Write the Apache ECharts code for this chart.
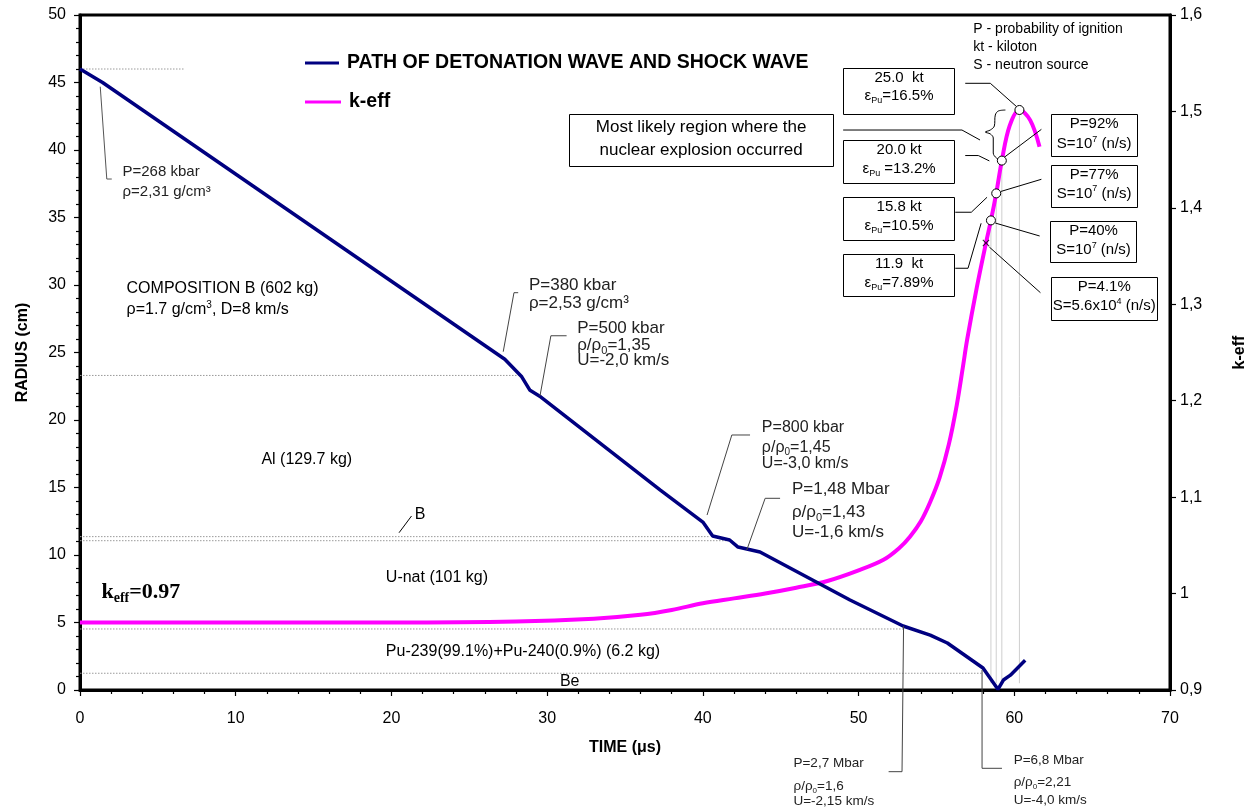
<!DOCTYPE html>
<html>
<head>
<meta charset="utf-8">
<script src="https://cdn.jsdelivr.net/npm/echarts/dist/echarts.min.js"></script>
<style>
  html, body { margin: 0; padding: 0; background: #fff; }
  #chart { width: 1256px; height: 810px; }
</style>
</head>
<body>
<div id="chart"></div>
<script>
// ---- axis scales ----
const timeMin = 0, timeMax = 70, timeStep = 10;
const radiusMin = 0, radiusMax = 50, radiusStep = 5;
const keffMin = 0.9, keffMax = 1.6, keffStep = 0.1;

// ---- detonation / shock front: radius (cm) vs time (µs) ----
const shockTime   = [0, 1.45, 27.28, 28.37, 28.9, 29.6, 37.27, 40.0, 40.63, 41.72, 42.26, 43.67, 49.45, 52.86, 54.6, 55.7, 57.99, 58.95, 59.3, 59.75, 60.7];
const shockRadius = [46.0, 45.0, 24.5, 23.2, 22.2, 21.7, 14.81, 12.44, 11.41, 11.11, 10.59, 10.22, 6.67, 4.74, 4.07, 3.48, 1.63, 0.05, 0.74, 1.1, 2.2];

// ---- k-eff vs time (µs) ----
const keffTime  = [0, 10, 20, 28, 33, 36, 38, 40, 42, 44, 46, 48, 50, 51.6, 52.6, 53.3, 54.0, 54.6, 55.2, 55.8, 56.3, 56.7, 56.97, 57.6, 58.18, 58.5, 58.84, 59.2, 59.7, 60.33, 61.02, 61.62];
const keffValue = [0.97, 0.97, 0.97, 0.971, 0.974, 0.978, 0.983, 0.99, 0.995, 1.0, 1.006, 1.013, 1.024, 1.035, 1.047, 1.059, 1.075, 1.095, 1.12, 1.155, 1.195, 1.235, 1.263, 1.318, 1.3635, 1.387, 1.415, 1.449, 1.485, 1.5015, 1.491, 1.4634];

// ---- ignition points (11.9, 15.8, 20.0, 25.0 kt) and the weak-source point ----
const ignitionTime = [58.5, 58.84, 59.2, 60.33];
const ignitionKeff = [1.387, 1.415, 1.449, 1.5015];
const sourceTime = [58.18];
const sourceKeff = [1.3635];

// ---- material interfaces (cm) and how far in time each marker line runs ----
const layerRadius  = [46.0, 23.3, 11.36, 11.06, 4.52, 1.24];
const layerLineEnd = [6.7, 28.3, 40.45, 41.9, 52.9, 57.95];

const FF = "'Liberation Sans', Arial, Helvetica, sans-serif";
const SERIF = "'Liberation Serif', 'Times New Roman', serif";
const BLUE = '#000080', PINK = '#ff00ff';
const SHOCK_NAME = 'PATH OF DETONATION WAVE AND SHOCK WAVE';

const zip = (a, b) => a.map((v, i) => [v, b[i]]);

// ---- leader lines (time µs, radius cm) ----
const leaders = [
  { pts: [[1.30, 44.69], [1.72, 37.85], [2.04, 37.85]], color: '#555' },
  { pts: [[27.18, 25.06], [27.87, 29.43], [28.14, 29.43]], color: '#444' },
  { pts: [[29.54, 21.78], [30.24, 26.24], [31.25, 26.24]], color: '#444' },
  { pts: [[40.27, 12.96], [41.86, 18.89], [43.03, 18.89]], color: '#444' },
  { pts: [[42.82, 10.37], [44.0, 14.2], [44.96, 14.2]], color: '#444' },
  { pts: [[52.89, 4.74], [52.79, -6.05], [51.93, -6.05]], color: '#444' },
  { pts: [[57.93, 1.48], [57.93, -5.8], [59.21, -5.8]], color: '#444' },
  { pts: [[20.49, 11.65], [21.29, 12.89]], color: '#000' },
  { pts: [[56.85, 44.94], [58.46, 44.94], [60.17, 43.19]], color: '#000' },
  { pts: [[59.38, 39.48], [61.74, 41.53]], color: '#000' },
  { pts: [[49.01, 41.48], [56.64, 41.48], [57.8, 40.74]], color: '#000' },
  { pts: [[56.85, 39.59], [57.69, 39.59], [58.4, 39.19]], color: '#000' },
  { pts: [[59.14, 36.93], [61.74, 37.83]], color: '#000' },
  { pts: [[56.21, 35.39], [57.24, 35.39], [58.25, 36.5]], color: '#000' },
  { pts: [[58.78, 34.59], [61.63, 33.63]], color: '#000' },
  { pts: [[56.21, 31.24], [57.03, 31.24], [57.87, 34.57]], color: '#000' },
  { pts: [[58.4, 32.81], [61.68, 29.43]], color: '#000' }
];
// curly brace grouping the 20.0 kt and 25.0 kt points
const brace = [[59.43, 42.96], [58.98, 42.89], [58.78, 42.59], [58.72, 41.78], [58.46, 41.48], [58.14, 41.33],
               [58.46, 41.19], [58.65, 40.89], [58.65, 39.78], [58.85, 39.41], [59.17, 39.26]];

// ---- framed boxes: [t1, r1, t2, r2] ----
const boxes = [
  [49.03, 46.1, 56.17, 42.72], [49.03, 40.74, 56.17, 37.58], [49.03, 36.5, 56.17, 33.33], [49.03, 32.27, 56.17, 29.19],
  [62.38, 42.64, 67.89, 39.5], [62.38, 38.89, 67.89, 35.8], [62.32, 34.76, 67.85, 31.73], [62.38, 30.61, 69.18, 27.41],
  [31.42, 42.67, 48.35, 38.81]
];

// ---- text notes: [t, r, text, fontSize, align, color] ----
const notes = [
  [57.37, 48.94, 'P - probability of ignition', 14, 'left', '#000'],
  [57.37, 47.61, 'kt - kiloton', 14, 'left', '#000'],
  [57.37, 46.30, 'S - neutron source', 14, 'left', '#000'],

  [52.6, 45.36, '25.0  kt', 15, 'center', '#000'],
  [52.6, 44.0, 'ε{s|Pu}=16.5%', 15, 'center', '#000'],
  [52.6, 39.98, '20.0 kt', 15, 'center', '#000'],
  [52.6, 38.64, 'ε{s|Pu} =13.2%', 15, 'center', '#000'],
  [52.6, 35.78, '15.8 kt', 15, 'center', '#000'],
  [52.6, 34.39, 'ε{s|Pu}=10.5%', 15, 'center', '#000'],
  [52.6, 31.54, '11.9  kt', 15, 'center', '#000'],
  [52.6, 30.17, 'ε{s|Pu}=7.89%', 15, 'center', '#000'],

  [65.13, 41.9, 'P=92%', 15, 'center', '#000'],
  [65.13, 40.44, 'S=10{p|7} (n/s)', 15, 'center', '#000'],
  [65.13, 38.15, 'P=77%', 15, 'center', '#000'],
  [65.13, 36.74, 'S=10{p|7} (n/s)', 15, 'center', '#000'],
  [65.09, 34.0, 'P=40%', 15, 'center', '#000'],
  [65.09, 32.59, 'S=10{p|7} (n/s)', 15, 'center', '#000'],
  [65.78, 29.86, 'P=4.1%', 15, 'center', '#000'],
  [65.78, 28.44, 'S=5.6x10{p|4} (n/s)', 15, 'center', '#000'],

  [39.89, 41.68, 'Most likely region where the', 17, 'center', '#000'],
  [39.89, 40.0, 'nuclear explosion occurred', 17, 'center', '#000'],

  [2.73, 38.39, 'P=268 kbar', 15, 'left', '#222'],
  [2.73, 36.91, 'ρ=2,31 g/cm³', 15, 'left', '#222'],
  [28.83, 30.0, 'P=380 kbar', 17, 'left', '#222'],
  [28.83, 28.64, 'ρ=2,53 g/cm³', 17, 'left', '#222'],
  [31.93, 26.79, 'P=500 kbar', 17, 'left', '#222'],
  [31.93, 25.5, 'ρ/ρ{s|0}=1,35', 17, 'left', '#222'],
  [31.93, 24.44, 'U=-2,0 km/s', 17, 'left', '#222'],
  [43.79, 19.46, 'P=800 kbar', 16, 'left', '#222'],
  [43.79, 17.98, 'ρ/ρ{s|0}=1,45', 16, 'left', '#222'],
  [43.79, 16.79, 'U=-3,0 km/s', 16, 'left', '#222'],
  [45.72, 14.87, 'P=1,48 Mbar', 17, 'left', '#222'],
  [45.72, 13.15, 'ρ/ρ{s|0}=1,43', 17, 'left', '#222'],
  [45.72, 11.65, 'U=-1,6 km/s', 17, 'left', '#222'],
  [45.82, -5.43, 'P=2,7 Mbar', 13.5, 'left', '#222'],
  [45.82, -7.1, 'ρ/ρ{s|0}=1,6', 13.5, 'left', '#222'],
  [45.82, -8.27, 'U=-2,15 km/s', 13.5, 'left', '#222'],
  [59.96, -5.19, 'P=6,8 Mbar', 13.5, 'left', '#222'],
  [59.96, -6.8, 'ρ/ρ{s|0}=2,21', 13.5, 'left', '#222'],
  [59.96, -8.15, 'U=-4,0 km/s', 13.5, 'left', '#222'],

  [2.99, 29.76, 'COMPOSITION B (602 kg)', 16, 'left', '#000'],
  [2.99, 28.15, 'ρ=1.7 g/cm{p|3}, D=8 km/s', 16, 'left', '#000'],
  [11.65, 17.04, 'Al (129.7 kg)', 16, 'left', '#000'],
  [21.5, 12.96, 'B', 16, 'left', '#000'],
  [19.64, 8.30, 'U-nat (101 kg)', 16, 'left', '#000'],
  [19.64, 2.81, 'Pu-239(99.1%)+Pu-240(0.9%) (6.2 kg)', 16, 'left', '#000'],
  [30.82, 0.59, 'Be', 16, 'left', '#000']
];
// k_eff label at the start of the k-eff curve
const keffNote = [1.38, 7.26];

const commaFmt = v => String(Number(v.toFixed(1))).replace('.', ',');

const series = [
  {
    name: SHOCK_NAME, type: 'line', xAxisIndex: 0, yAxisIndex: 0,
    data: zip(shockTime, shockRadius), symbol: 'none', z: 6,
    lineStyle: { color: BLUE, width: 3.5 }, itemStyle: { color: BLUE }
  },
  {
    name: 'k-eff', type: 'line', xAxisIndex: 0, yAxisIndex: 1,
    data: zip(keffTime, keffValue), symbol: 'none', smooth: 0.35, z: 5,
    lineStyle: { color: PINK, width: 4 }, itemStyle: { color: PINK }
  }
];

// dotted interface markers
layerRadius.forEach((r, i) => series.push({
  type: 'line', yAxisIndex: 0, symbol: 'none', silent: true, z: 1,
  data: [[timeMin, r], [layerLineEnd[i], r]],
  lineStyle: { color: '#9a9a9a', width: 1, type: [1.5, 1.5] }
}));

// drop lines from each ignition point
ignitionTime.forEach((t, i) => series.push({
  type: 'line', yAxisIndex: 1, symbol: 'none', silent: true, z: 2,
  data: [[t, ignitionKeff[i]], [t, 0.907]],
  lineStyle: { color: '#cfcfcf', width: 1 }
}));

// leader lines and brace (drawn outside the grid too)
leaders.forEach(l => series.push({
  type: 'line', yAxisIndex: 0, symbol: 'none', silent: true, clip: false, z: 7,
  data: l.pts, lineStyle: { color: l.color, width: 1 }
}));
series.push({
  type: 'line', yAxisIndex: 0, symbol: 'none', silent: true, clip: false, z: 7, smooth: 0.35,
  data: brace, lineStyle: { color: '#000', width: 1 }
});

series.push({
  type: 'scatter', yAxisIndex: 1, data: zip(ignitionTime, ignitionKeff), symbol: 'circle', symbolSize: 9, z: 10,
  itemStyle: { color: '#fff', borderColor: '#000', borderWidth: 1, opacity: 1 }, silent: true
});
series.push({
  type: 'scatter', yAxisIndex: 1, data: zip(sourceTime, sourceKeff), z: 10, silent: true,
  symbol: 'path://M0,1L1,0L5,4L9,0L10,1L6,5L10,9L9,10L5,6L1,10L0,9L4,5Z', symbolSize: 7,
  itemStyle: { color: '#000' }
});

const axisCommon = {
  axisLine: { show: true, onZero: false, lineStyle: { color: '#000', width: 3 } },
  axisTick: { show: true, inside: false, length: 6, lineStyle: { color: '#000', width: 1.2 } },
  splitLine: { show: false },
  nameTextStyle: { fontSize: 16, fontWeight: 'bold', color: '#000', fontFamily: FF }
};

const legendText = { fontSize: 19.5, fontWeight: 'bold', color: '#000', fontFamily: FF, padding: [0, 0, 0, 3] };

const option = {
  animation: false,
  backgroundColor: '#fff',
  textStyle: { fontFamily: FF },
  grid: { left: 80, right: 86, top: 15, bottom: 120, show: true, borderColor: '#000', borderWidth: 3, backgroundColor: '#fff' },
  legend: [
    { data: [SHOCK_NAME], left: 305, top: 53, padding: 0, icon: 'rect', itemWidth: 34, itemHeight: 3, selectedMode: false,
      textStyle: legendText },
    { data: ['k-eff'], left: 305, top: 92, padding: 0, icon: 'rect', itemWidth: 36, itemHeight: 3, selectedMode: false,
      textStyle: legendText }
  ],
  xAxis: Object.assign({}, axisCommon, {
    type: 'value', min: timeMin, max: timeMax, interval: timeStep,
    minorTick: { show: true, splitNumber: 5, length: 4, lineStyle: { color: '#000', width: 1.2 } },
    axisLabel: { fontSize: 16, color: '#000', margin: 21, fontFamily: FF },
    name: 'TIME (μs)', nameLocation: 'middle', nameGap: 50
  }),
  yAxis: [
    Object.assign({}, axisCommon, {
      type: 'value', position: 'left', min: radiusMin, max: radiusMax, interval: radiusStep,
      minorTick: { show: true, splitNumber: 5, length: 4, lineStyle: { color: '#000', width: 1.2 } },
      axisLabel: { fontSize: 16, color: '#000', margin: 14, fontFamily: FF },
      name: 'RADIUS (cm)', nameLocation: 'middle', nameRotate: 90, nameGap: 49
    }),
    Object.assign({}, axisCommon, {
      type: 'value', position: 'right', min: keffMin, max: keffMax, interval: keffStep,
      axisLabel: { fontSize: 16, color: '#000', margin: 10, fontFamily: FF, formatter: commaFmt },
      name: 'k-eff', nameLocation: 'middle', nameRotate: 90, nameGap: 62
    })
  ],
  series
};

const chart = echarts.init(document.getElementById('chart'));
chart.setOption(option);

// ---- annotations placed through the radius/time scale ----
const px = (t, r) => chart.convertToPixel({ seriesIndex: 0 }, [t, r]);

function richFor(size, color) {
  const small = Math.round(size * 0.62);
  return {
    s: { fontSize: small, fontFamily: FF, fill: color, verticalAlign: 'bottom', lineHeight: small + 1 },
    p: { fontSize: small, fontFamily: FF, fill: color, verticalAlign: 'top', lineHeight: small + 1 }
  };
}

const graphics = [];
boxes.forEach(b => {
  const a = px(b[0], b[1]), c = px(b[2], b[3]);
  graphics.push({
    type: 'rect', z: 40, silent: true,
    shape: { x: Math.round(a[0]) + 0.5, y: Math.round(a[1]) + 0.5, width: Math.round(c[0] - a[0]), height: Math.round(c[1] - a[1]) },
    style: { fill: '#fff', stroke: '#000', lineWidth: 1 }
  });
});
notes.forEach(n => {
  const [x, y] = px(n[0], n[1]);
  graphics.push({
    type: 'text', x, y, z: 50, silent: true,
    style: {
      text: n[2], fill: n[5], fontSize: n[3], fontFamily: FF, align: n[4], verticalAlign: 'middle',
      lineHeight: Math.round(n[3] + 4), rich: richFor(n[3], n[5])
    }
  });
});
{
  const [x, y] = px(keffNote[0], keffNote[1]);
  graphics.push({
    type: 'text', x, y, z: 50, silent: true,
    style: {
      text: 'k{e|eff}=0.97', fill: '#000', fontSize: 22, fontWeight: 'bold', fontFamily: SERIF,
      align: 'left', verticalAlign: 'middle', lineHeight: 26,
      rich: { e: { fontSize: 14, fontWeight: 'bold', fontFamily: SERIF, fill: '#000', verticalAlign: 'bottom', lineHeight: 15 } }
    }
  });
}
chart.setOption({ graphic: { elements: graphics } });
</script>
</body>
</html>
